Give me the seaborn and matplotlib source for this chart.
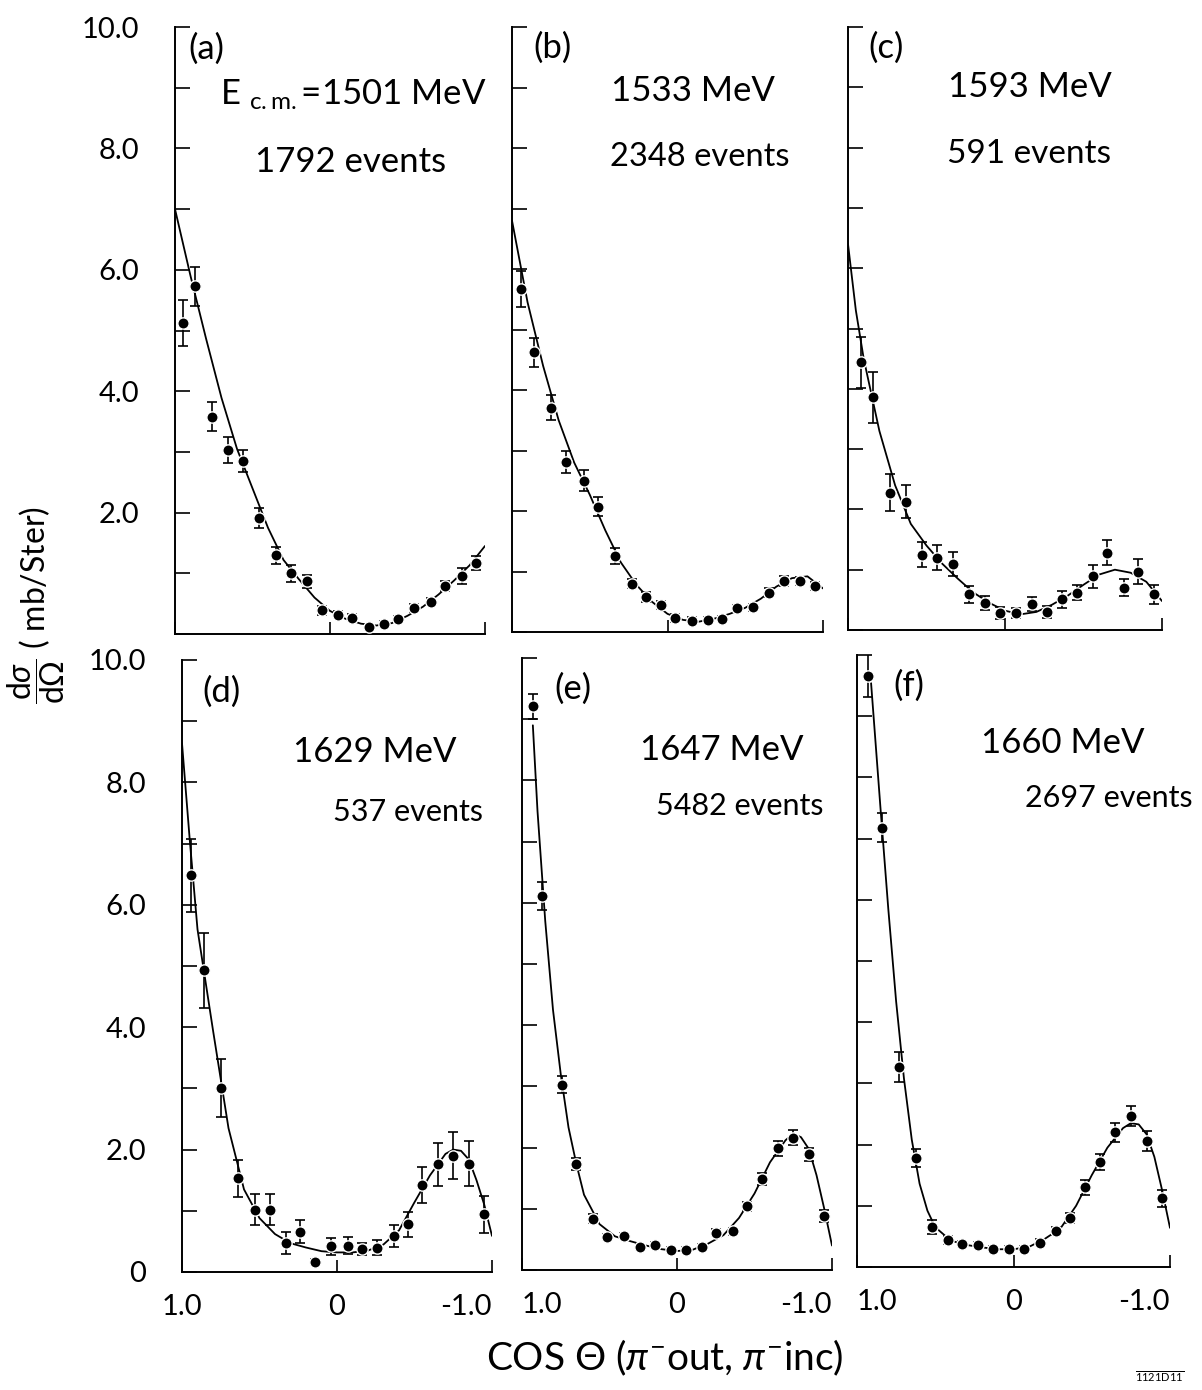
import numpy as np
import pandas as pd
import matplotlib
matplotlib.use("Agg")
import matplotlib.pyplot as plt
import seaborn as sns

# ---------------- data ----------------
panel_tags = ["(a)", "(b)", "(c)", "(d)", "(e)", "(f)"]
energies = ["1501", "1533", "1593", "1629", "1647", "1660"]
events = ["1792", "2348", "591", "537", "5482", "2697"]

a_x = [0.95, 0.87, 0.76, 0.66, 0.56, 0.46, 0.35, 0.25, 0.15, 0.05, -0.05, -0.14, -0.25, -0.35, -0.44, -0.54, -0.65, -0.74, -0.85, -0.94]
a_y = [5.12, 5.73, 3.58, 3.03, 2.85, 1.91, 1.30, 1.00, 0.87, 0.39, 0.32, 0.27, 0.12, 0.16, 0.24, 0.43, 0.53, 0.79, 0.95, 1.17]
a_err = [0.38, 0.32, 0.24, 0.21, 0.18, 0.16, 0.14, 0.14, 0.11, 0.07, 0.06, 0.06, 0.05, 0.05, 0.05, 0.06, 0.06, 0.08, 0.13, 0.12]

b_x = [0.94, 0.86, 0.75, 0.65, 0.54, 0.45, 0.34, 0.23, 0.14, 0.04, -0.05, -0.16, -0.26, -0.35, -0.45, -0.55, -0.65, -0.75, -0.85, -0.95]
b_y = [5.67, 4.62, 3.71, 2.81, 2.50, 2.07, 1.26, 0.80, 0.58, 0.45, 0.23, 0.19, 0.20, 0.21, 0.39, 0.41, 0.65, 0.84, 0.84, 0.76]
b_err = [0.29, 0.24, 0.20, 0.18, 0.17, 0.16, 0.13, 0.08, 0.08, 0.07, 0.06, 0.05, 0.05, 0.05, 0.06, 0.06, 0.07, 0.08, 0.07, 0.07]

c_x = [0.92, 0.84, 0.73, 0.63, 0.53, 0.43, 0.33, 0.23, 0.13, 0.03, -0.07, -0.17, -0.27, -0.36, -0.46, -0.56, -0.65, -0.76, -0.85, -0.95]
c_y = [4.44, 3.86, 2.28, 2.13, 1.25, 1.20, 1.09, 0.59, 0.45, 0.28, 0.28, 0.43, 0.30, 0.51, 0.62, 0.89, 1.28, 0.70, 0.97, 0.59]
c_err = [0.42, 0.42, 0.31, 0.28, 0.21, 0.21, 0.20, 0.14, 0.12, 0.10, 0.08, 0.11, 0.10, 0.14, 0.12, 0.19, 0.21, 0.14, 0.20, 0.16]

d_x = [0.94, 0.86, 0.75, 0.64, 0.53, 0.43, 0.33, 0.24, 0.14, 0.04, -0.07, -0.16, -0.26, -0.37, -0.46, -0.55, -0.65, -0.75, -0.85, -0.95]
d_y = [6.48, 4.93, 3.01, 1.53, 1.02, 1.02, 0.47, 0.66, 0.17, 0.42, 0.43, 0.38, 0.40, 0.59, 0.78, 1.42, 1.76, 1.90, 1.77, 0.94]
d_err = [0.59, 0.61, 0.47, 0.30, 0.25, 0.25, 0.18, 0.19, 0.05, 0.14, 0.14, 0.10, 0.12, 0.18, 0.20, 0.29, 0.35, 0.38, 0.37, 0.31]

e_x = [0.93, 0.87, 0.74, 0.65, 0.54, 0.45, 0.34, 0.24, 0.14, 0.04, -0.06, -0.16, -0.25, -0.36, -0.45, -0.55, -0.65, -0.75, -0.85, -0.95]
e_y = [9.21, 6.11, 3.03, 1.73, 0.84, 0.54, 0.55, 0.37, 0.41, 0.32, 0.32, 0.37, 0.61, 0.63, 1.04, 1.49, 1.99, 2.16, 1.89, 0.88]
e_err = [0.20, 0.23, 0.14, 0.10, 0.08, 0.05, 0.05, 0.05, 0.05, 0.05, 0.05, 0.05, 0.06, 0.06, 0.07, 0.10, 0.12, 0.12, 0.11, 0.10]

f_x = [0.93, 0.84, 0.73, 0.62, 0.52, 0.42, 0.33, 0.23, 0.13, 0.03, -0.07, -0.17, -0.27, -0.36, -0.46, -0.55, -0.65, -0.75, -0.85, -0.95]
f_y = [9.66, 7.18, 3.27, 1.78, 0.65, 0.44, 0.37, 0.36, 0.30, 0.30, 0.29, 0.40, 0.59, 0.80, 1.30, 1.71, 2.20, 2.47, 2.06, 1.12]
f_err = [0.35, 0.24, 0.24, 0.15, 0.11, 0.06, 0.05, 0.05, 0.05, 0.05, 0.05, 0.05, 0.06, 0.08, 0.12, 0.13, 0.16, 0.16, 0.16, 0.14]

# fitted curves
grid_x = [1.0, 0.9, 0.8, 0.7, 0.6, 0.5, 0.4, 0.3, 0.2, 0.1, 0.0, -0.1, -0.2, -0.3, -0.4, -0.5, -0.6, -0.7, -0.8, -0.9, -1.0]
fa_x = grid_x
fa_y = [7.0, 5.9, 4.87, 3.89, 3.05, 2.4, 1.75, 1.22, 0.9, 0.6, 0.38, 0.25, 0.17, 0.14, 0.18, 0.3, 0.45, 0.65, 0.88, 1.13, 1.45]
fb_x = grid_x
fb_y = [6.8, 5.45, 4.4, 3.5, 2.8, 2.27, 1.68, 1.15, 0.78, 0.5, 0.3, 0.2, 0.17, 0.22, 0.3, 0.4, 0.55, 0.75, 0.89, 0.92, 0.72]
fc_x = [1.0, 0.95, 0.9, 0.8, 0.7, 0.6, 0.5, 0.4, 0.3, 0.2, 0.1, 0.0, -0.1, -0.2, -0.3, -0.4, -0.5, -0.6, -0.7, -0.8, -0.9, -1.0]
fc_y = [6.4, 5.3, 4.5, 3.3, 2.4, 1.76, 1.4, 1.1, 0.85, 0.62, 0.45, 0.32, 0.26, 0.3, 0.42, 0.57, 0.75, 0.92, 1.0, 0.95, 0.8, 0.48]
fd_x = [1.0, 0.95, 0.9, 0.8, 0.7, 0.6, 0.5, 0.4, 0.3, 0.2, 0.1, 0.0, -0.1, -0.2, -0.3, -0.4, -0.5, -0.6, -0.7, -0.75, -0.8, -0.85, -0.9, -0.95, -1.0]
fd_y = [8.64, 7.06, 5.6, 3.95, 2.35, 1.35, 0.88, 0.62, 0.47, 0.40, 0.34, 0.32, 0.32, 0.35, 0.45, 0.68, 1.14, 1.58, 1.93, 2.0, 1.98, 1.84, 1.5, 1.1, 0.59]
fe_x = [0.93, 0.9, 0.85, 0.8, 0.75, 0.7, 0.65, 0.6, 0.5, 0.4, 0.3, 0.2, 0.1, 0.0, -0.1, -0.2, -0.3, -0.4, -0.5, -0.6, -0.7, -0.75, -0.8, -0.85, -0.9, -0.95, -1.0]
fe_y = [8.9, 7.5, 5.7, 4.25, 3.2, 2.33, 1.74, 1.23, 0.75, 0.55, 0.47, 0.40, 0.34, 0.31, 0.33, 0.43, 0.57, 0.85, 1.25, 1.76, 2.12, 2.23, 2.17, 1.98, 1.55, 1.0, 0.40]
ff_x = [0.91, 0.85, 0.8, 0.75, 0.7, 0.65, 0.6, 0.55, 0.5, 0.4, 0.3, 0.2, 0.1, 0.0, -0.1, -0.2, -0.3, -0.4, -0.5, -0.6, -0.7, -0.75, -0.8, -0.85, -0.9, -0.95, -1.0]
ff_y = [9.54, 7.5, 5.85, 4.34, 3.08, 2.08, 1.36, 0.92, 0.65, 0.43, 0.36, 0.32, 0.29, 0.29, 0.33, 0.46, 0.63, 1.0, 1.5, 1.95, 2.27, 2.35, 2.33, 2.17, 1.8, 1.25, 0.64]

points = [(a_x, a_y, a_err), (b_x, b_y, b_err), (c_x, c_y, c_err),
          (d_x, d_y, d_err), (e_x, e_y, e_err), (f_x, f_y, f_err)]
curves = [(fa_x, fa_y), (fb_x, fb_y), (fc_x, fc_y),
          (fd_x, fd_y), (fe_x, fe_y), (ff_x, ff_y)]

x_ticks = [1.0, 0.0, -1.0]
x_ticklabels = ["1.0", "0", "-1.0"]
y_ticks = list(range(0, 11))

# ---------------- style ----------------
sns.set_theme(style="ticks")
FONT = ["Lato", "DejaVu Sans"]
plt.rcParams["font.family"] = FONT
plt.rcParams["text.color"] = "black"
plt.rcParams["axes.labelcolor"] = "black"
plt.rcParams["xtick.color"] = "black"
plt.rcParams["ytick.color"] = "black"
plt.rcParams["axes.edgecolor"] = "black"
plt.rcParams["mathtext.fontset"] = "custom"
plt.rcParams["mathtext.rm"] = "Lato"
plt.rcParams["mathtext.it"] = "Lato:italic"
plt.rcParams["mathtext.sf"] = "Lato"

W, H = 1202, 1390
fig = plt.figure(figsize=(W / 100, H / 100), dpi=100)
fig.patch.set_facecolor("white")

# axes rectangles in pixels: (left, right, y=10 pixel, y=0 pixel)
rects = [(175, 485, 27, 634), (512, 823, 27, 632), (848, 1162, 27, 630),
         (182, 492, 660, 1272), (522, 832, 658, 1270), (857, 1170, 655, 1267)]

# text positions in axes fractions
tag_pos = [(0.042, 0.965), (0.068, 0.965), (0.064, 0.965),
           (0.065, 0.948), (0.106, 0.950), (0.115, 0.950)]
en_pos = [(1.006, 0.888), (0.582, 0.895), (0.578, 0.900),
          (0.623, 0.849), (0.645, 0.849), (0.658, 0.856)]
ev_pos = [(0.565, 0.778), (0.605, 0.785), (0.578, 0.790),
          (0.729, 0.751), (0.703, 0.758), (0.805, 0.766)]
ev_size = [25, 23.5, 24, 22, 22, 22]

TS = 21     # tick labels
AS = 25     # annotations
for i, (rect, pts, cur) in enumerate(zip(rects, points, curves)):
    l, r, t, b = rect
    ax = fig.add_axes([l / W, 1 - b / H, (r - l) / W, (b - t) / H])
    ax.set_facecolor("white")
    px, py, pe = pts
    cx, cy = cur
    cdf = pd.DataFrame({"cos": cx, "sig": cy})
    sns.lineplot(data=cdf, x="cos", y="sig", ax=ax, color="black",
                 linewidth=1.3, sort=False, estimator=None, zorder=2)
    ax.errorbar(px, py, yerr=pe, fmt="none", ecolor="black",
                elinewidth=1.2, capsize=3.8, capthick=1.2, zorder=3)
    pdf = pd.DataFrame({"cos": px, "sig": py})
    sns.scatterplot(data=pdf, x="cos", y="sig", ax=ax, color="black",
                    s=66, edgecolor="white", linewidth=1.0, zorder=4)

    ax.set_xlim(1.0, -1.0)
    ax.set_ylim(0, 10)
    ax.set_xlabel("")
    ax.set_ylabel("")
    sns.despine(ax=ax, top=True, right=True)
    ax.spines["left"].set_linewidth(1.4)
    ax.spines["bottom"].set_linewidth(1.4)

    ax.set_yticks(y_ticks)
    if i % 3 == 0:
        labs = []
        for v in y_ticks:
            if v % 2 == 0 and v > 0:
                labs.append(f"{v:.1f}")
            elif v == 0 and i == 3:
                labs.append("0")
            else:
                labs.append("")
        ax.set_yticklabels(labs)
    else:
        ax.set_yticklabels([])
    ax.tick_params(axis="y", direction="in", length=11, width=1.2,
                   pad=26, labelsize=TS, colors="black")

    ax.set_xticks(x_ticks)
    if i >= 3:
        ax.set_xticklabels(x_ticklabels)
        xt = ax.get_xticklabels()
        xt[2].set_horizontalalignment("right")
        if i > 3:
            xt[0].set_horizontalalignment("left")
    else:
        ax.set_xticklabels([])
    ax.tick_params(axis="x", direction="in", length=9, width=1.2,
                   pad=16, labelsize=TS, colors="black")

    ax.text(tag_pos[i][0], tag_pos[i][1], panel_tags[i], transform=ax.transAxes,
            ha="left", va="center", fontsize=AS)
    if i == 0:
        en_txt = r"E $_{\rm c.m.}$=" + energies[i] + " MeV"
        ax.text(en_pos[i][0], en_pos[i][1], en_txt, transform=ax.transAxes,
                ha="right", va="center", fontsize=AS)
    else:
        ax.text(en_pos[i][0], en_pos[i][1], energies[i] + " MeV",
                transform=ax.transAxes, ha="center", va="center", fontsize=AS)
    ax.text(ev_pos[i][0], ev_pos[i][1], events[i] + " events",
            transform=ax.transAxes, ha="center", va="center",
            fontsize=ev_size[i])

fig.text(0.553, 1 - 1358 / H,
         r"COS $\Theta$ ($\pi^{-}$out, $\pi^{-}$inc)",
         ha="center", va="center", fontsize=28)
fig.text(0.030, 1 - 605 / H,
         r"$\dfrac{\mathrm{d}\sigma}{\mathrm{d}\Omega}$ ( mb/Ster)",
         rotation=90, ha="center", va="center", fontsize=23)
fig.text(1160 / W, 1 - 1377 / H, r"$\overline{\rm 1121D11}$",
         ha="center", va="center", fontsize=8)

fig.savefig("out.png", dpi=100, facecolor="white")
